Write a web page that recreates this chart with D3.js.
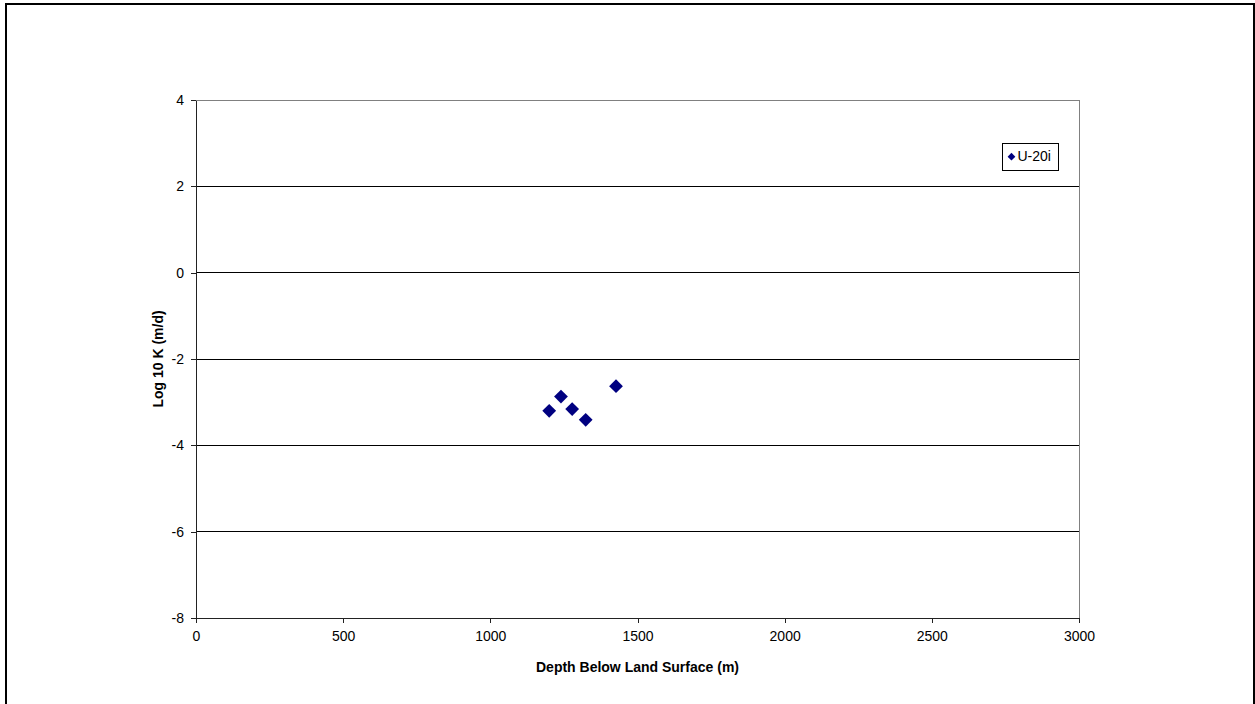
<!DOCTYPE html>
<html>
<head>
<meta charset="utf-8">
<script src="https://cdn.jsdelivr.net/npm/d3@7"></script>
<style>
  body { margin: 0; background: #fff; }
  text { font-family: "Liberation Sans", Arial, sans-serif; }
</style>
</head>
<body>
<div id="chart"></div>
<script>
// series U-20i: depth (m) vs log10 K (m/d)
const depths = [1200, 1240, 1278, 1324, 1427];
const logK = [-3.20, -2.87, -3.16, -3.41, -2.63];
const seriesName = "U-20i";
const xTicks = [0, 500, 1000, 1500, 2000, 2500, 3000];
const yTicks = [4, 2, 0, -2, -4, -6, -8];

const W = 1255, H = 704;
const margin = { top: 100, right: 176, bottom: 86, left: 196 };
const width = W - margin.left - margin.right,
  height = H - margin.top - margin.bottom;

const svg = d3.select("#chart").append("svg")
  .attr("width", W)
  .attr("height", H);

// outer frame
svg.append("rect")
  .attr("x", 6).attr("y", 4)
  .attr("width", 1248).attr("height", 710)
  .attr("fill", "none")
  .attr("stroke", "#000")
  .attr("stroke-width", 2);

const g = svg.append("g")
  .attr("transform", `translate(${margin.left},${margin.top})`);

const xScale = d3.scaleLinear().domain([0, 3000]).range([0, width]);
const yScale = d3.scaleLinear().domain([-8, 4]).range([height, 0]);

// grid lines
g.append("g")
  .selectAll("line")
  .data(yTicks.filter(d => d !== -8 && d !== 4))
  .enter().append("line")
  .attr("x1", 0).attr("x2", width)
  .attr("y1", d => yScale(d)).attr("y2", d => yScale(d))
  .attr("stroke", "#000")
  .attr("stroke-width", 1)
  .attr("shape-rendering", "crispEdges");

// plot border top/right in grey
g.append("path")
  .attr("d", `M0,${yScale(4)}H${width}V${height}`)
  .attr("fill", "none")
  .attr("stroke", "#808080")
  .attr("stroke-width", 1)
  .attr("shape-rendering", "crispEdges");

// axes (plain hyphen minus like the original)
const fmt = d => String(d);

const xAxis = g.append("g")
  .attr("transform", `translate(0,${height})`)
  .call(d3.axisBottom(xScale).tickValues(xTicks).tickFormat(fmt)
    .tickSize(5).tickSizeOuter(0).tickPadding(8));

const yAxis = g.append("g")
  .call(d3.axisLeft(yScale).tickValues(yTicks).tickFormat(fmt)
    .tickSize(5).tickSizeOuter(0).tickPadding(7));

[xAxis, yAxis].forEach(ax => {
  ax.select(".domain").attr("stroke", "#222").attr("shape-rendering", "crispEdges");
  ax.selectAll(".tick line").attr("stroke", "#222").attr("shape-rendering", "crispEdges");
  ax.selectAll("text")
    .style("font-family", "'Liberation Sans', Arial, sans-serif")
    .style("font-size", "14px")
    .attr("fill", "#000");
});

// axis titles
g.append("text")
  .attr("x", width / 2)
  .attr("y", height + 54)
  .attr("text-anchor", "middle")
  .style("font-size", "14px")
  .style("font-weight", "bold")
  .text("Depth Below Land Surface (m)");

g.append("text")
  .attr("transform", "rotate(-90)")
  .attr("x", -height / 2)
  .attr("y", -33)
  .attr("text-anchor", "middle")
  .style("font-size", "14px")
  .style("font-weight", "bold")
  .text("Log 10 K (m/d)");

// points
const points = depths.map((d, i) => ({ x: d, y: logK[i] }));

g.selectAll(".pt")
  .data(points)
  .enter().append("path")
  .attr("class", "pt")
  .attr("transform", d => `translate(${xScale(d.x)},${yScale(d.y)}) rotate(45)`)
  .attr("d", d3.symbol().type(d3.symbolSquare).size(95))
  .attr("fill", "#000080");

// legend
const legend = g.append("g")
  .attr("transform", `translate(${xScale(2740)},${yScale(3.0)})`);

legend.append("rect")
  .attr("x", 0).attr("y", 0)
  .attr("width", 56).attr("height", 27)
  .attr("fill", "#fff")
  .attr("stroke", "#000")
  .attr("stroke-width", 1)
  .attr("shape-rendering", "crispEdges");

legend.append("path")
  .attr("transform", "translate(9,13.5) rotate(45)")
  .attr("d", d3.symbol().type(d3.symbolSquare).size(30))
  .attr("fill", "#000080");

legend.append("text")
  .attr("x", 15)
  .attr("y", 18)
  .style("font-size", "14px")
  .text(seriesName);
</script>
</body>
</html>
